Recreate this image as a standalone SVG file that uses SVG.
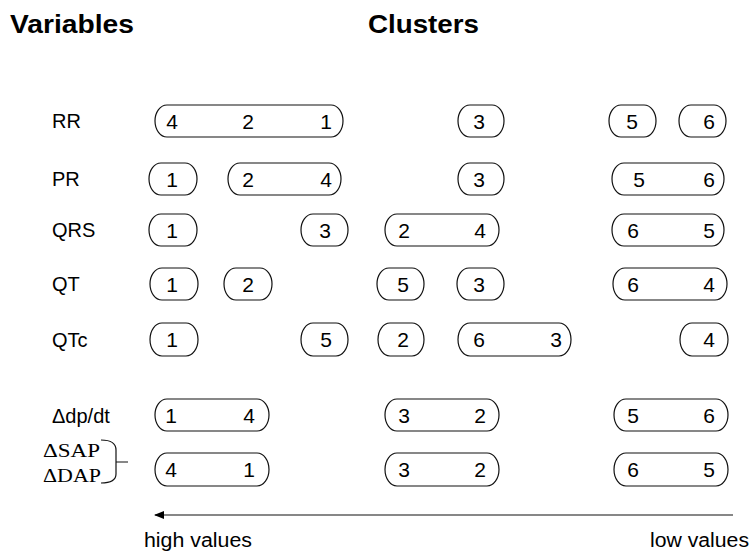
<svg xmlns="http://www.w3.org/2000/svg" width="752" height="554" viewBox="0 0 752 554">
<style>
.p{fill:none;stroke:#111;stroke-width:1.2}
.d{font-family:"Liberation Sans",Arial,sans-serif;font-size:21px;fill:#000;text-anchor:middle}
.l{font-family:"Liberation Sans",Arial,sans-serif;font-size:20px;fill:#000}
.h{font-family:"Liberation Sans",Arial,sans-serif;font-size:25px;font-weight:bold;fill:#000}
.s{font-family:"Liberation Serif","Times New Roman",serif;font-size:19px;fill:#000}
</style>
<defs>
<marker id="ah" markerWidth="10" markerHeight="8" refX="9" refY="4" orient="auto" markerUnits="userSpaceOnUse">
<path d="M0,0 L10,4 L0,8 Z" fill="#000"/>
</marker>
</defs>
<rect width="752" height="554" fill="#fff"/>
<g id="headers">
<text class="h" x="10" y="33" textLength="124" lengthAdjust="spacingAndGlyphs">Variables</text>
<text class="h" x="368" y="33" textLength="111" lengthAdjust="spacingAndGlyphs">Clusters</text>
</g>
<g id="labels">
<text class="l" x="52" y="128">RR</text>
<text class="l" x="52" y="186">PR</text>
<text class="l" x="52" y="237">QRS</text>
<text class="l" x="52" y="291">QT</text>
<text class="l" x="52" y="347">QTc</text>
<text class="l" x="52" y="423">Δdp/dt</text>
<text class="s" x="43" y="457" textLength="57" lengthAdjust="spacingAndGlyphs">ΔSAP</text>
<text class="s" x="43" y="482" textLength="58" lengthAdjust="spacingAndGlyphs">ΔDAP</text>
<path class="p" d="M101,440 Q116,440 116,450 L116,474 Q116,483 101,483 M116,462 H128"/>
</g>
<g id="row-RR">
<rect class="p" x="155" y="105" width="188" height="32" rx="12" ry="16"/>
<text class="d" x="172" y="129">4</text><text class="d" x="248" y="129">2</text><text class="d" x="326" y="129">1</text>
<rect class="p" x="458" y="105" width="46" height="32" rx="12" ry="16"/>
<text class="d" x="479" y="129">3</text>
<rect class="p" x="609" y="105" width="47" height="32" rx="12" ry="16"/>
<text class="d" x="632" y="129">5</text>
<rect class="p" x="679" y="105" width="47" height="32" rx="12" ry="16"/>
<text class="d" x="709" y="129">6</text>
</g>
<g id="row-PR">
<rect class="p" x="149" y="163" width="48" height="32" rx="12" ry="16"/>
<text class="d" x="172" y="187">1</text>
<rect class="p" x="228" y="163" width="113" height="32" rx="12" ry="16"/>
<text class="d" x="248" y="187">2</text><text class="d" x="326" y="187">4</text>
<rect class="p" x="458" y="163" width="46" height="32" rx="12" ry="16"/>
<text class="d" x="479" y="187">3</text>
<rect class="p" x="612" y="163" width="112" height="32" rx="12" ry="16"/>
<text class="d" x="639" y="187">5</text><text class="d" x="709" y="187">6</text>
</g>
<g id="row-QRS">
<rect class="p" x="149" y="214" width="48" height="32" rx="12" ry="16"/>
<text class="d" x="172" y="238">1</text>
<rect class="p" x="301" y="214" width="47" height="32" rx="12" ry="16"/>
<text class="d" x="325" y="238">3</text>
<rect class="p" x="385" y="214" width="114" height="32" rx="12" ry="16"/>
<text class="d" x="404" y="238">2</text><text class="d" x="480" y="238">4</text>
<rect class="p" x="612" y="214" width="112" height="32" rx="12" ry="16"/>
<text class="d" x="633" y="238">6</text><text class="d" x="709" y="238">5</text>
</g>
<g id="row-QT">
<rect class="p" x="150" y="268" width="48" height="32" rx="12" ry="16"/>
<text class="d" x="172" y="292">1</text>
<rect class="p" x="224" y="268" width="48" height="32" rx="12" ry="16"/>
<text class="d" x="248" y="292">2</text>
<rect class="p" x="377" y="268" width="47" height="32" rx="12" ry="16"/>
<text class="d" x="403" y="292">5</text>
<rect class="p" x="457" y="268" width="47" height="32" rx="12" ry="16"/>
<text class="d" x="479" y="292">3</text>
<rect class="p" x="613" y="268" width="114" height="32" rx="12" ry="16"/>
<text class="d" x="633" y="292">6</text><text class="d" x="709" y="292">4</text>
</g>
<g id="row-QTc">
<rect class="p" x="150" y="323" width="48" height="33" rx="12" ry="16.5"/>
<text class="d" x="172" y="347">1</text>
<rect class="p" x="301" y="323" width="47" height="33" rx="12" ry="16.5"/>
<text class="d" x="326" y="347">5</text>
<rect class="p" x="378" y="323" width="46" height="33" rx="12" ry="16.5"/>
<text class="d" x="403" y="347">2</text>
<rect class="p" x="458" y="323" width="113" height="33" rx="12" ry="16.5"/>
<text class="d" x="479" y="347">6</text><text class="d" x="556" y="347">3</text>
<rect class="p" x="680" y="323" width="48" height="33" rx="12" ry="16.5"/>
<text class="d" x="709" y="347">4</text>
</g>
<g id="row-dpdt">
<rect class="p" x="155" y="399" width="114" height="32" rx="12" ry="16"/>
<text class="d" x="171" y="423">1</text><text class="d" x="249" y="423">4</text>
<rect class="p" x="385" y="399" width="114" height="32" rx="12" ry="16"/>
<text class="d" x="404" y="423">3</text><text class="d" x="480" y="423">2</text>
<rect class="p" x="614" y="399" width="114" height="32" rx="12" ry="16"/>
<text class="d" x="633" y="423">5</text><text class="d" x="709" y="423">6</text>
</g>
<g id="row-SAP-DAP">
<rect class="p" x="155" y="453" width="114" height="33" rx="12" ry="16.5"/>
<text class="d" x="171" y="477">4</text><text class="d" x="249" y="477">1</text>
<rect class="p" x="385" y="453" width="114" height="33" rx="12" ry="16.5"/>
<text class="d" x="404" y="477">3</text><text class="d" x="480" y="477">2</text>
<rect class="p" x="614" y="453" width="114" height="33" rx="12" ry="16.5"/>
<text class="d" x="633" y="477">6</text><text class="d" x="709" y="477">5</text>
</g>
<g id="connectors">
<line x1="733" y1="515" x2="155" y2="515" stroke="#111" stroke-width="1.2" marker-end="url(#ah)"/>
</g>
<g id="axis-labels">
<text class="l" x="144" y="547" textLength="108" lengthAdjust="spacingAndGlyphs">high values</text>
<text class="l" x="650" y="547" textLength="99" lengthAdjust="spacingAndGlyphs">low values</text>
</g>
</svg>
